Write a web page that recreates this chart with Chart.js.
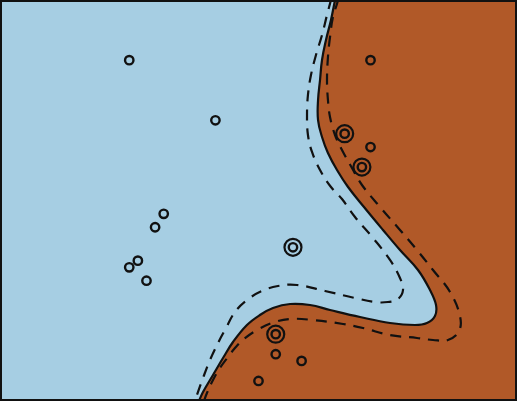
<!DOCTYPE html>
<html>
<head>
<meta charset="utf-8">
<script src="https://cdn.jsdelivr.net/npm/chart.js@4.4.1/dist/chart.umd.min.js"></script>
<style>
  html, body { margin: 0; padding: 0; background: #fff; }
  #svm-chart { display: block; }
</style>
</head>
<body>
<canvas id="svm-chart" width="517" height="401"></canvas>
<script>
// training points, class 0 (blue) and class 1 (brown)
const class0X = [0.4, -1.5, -1.4, -1.3, -1.1, -1.2, -0.5, -1.5];
const class0Y = [-0.7, -1.0, -0.9, -1.2, -0.2, -0.4, 1.2, 2.1];
const class1X = [1.0, 1.3, 1.2, 0.2, 0.5, 0.2, 0.0, 1.3];
const class1Y = [1.0, 0.8, 0.5, -2.0, -2.4, -2.3, -2.7, 2.1];

// support vectors
const supportX = [0.4, 1.0, 1.2, 0.2];
const supportY = [-0.7, 1.0, 0.5, -2.0];

// decision boundary (level 0)
const boundaryX = [0.935, 0.888, 0.841, 0.783, 0.737, 0.714, 0.691, 0.691, 0.737, 0.806, 0.911, 1.039, 1.224, 1.445, 1.642, 1.851, 1.990, 2.060, 2.048, 1.955, 1.816, 1.526, 1.178, 0.830, 0.598, 0.366, 0.168, 0.017, -0.134, -0.296, -0.412, -0.528, -0.644, -0.691, -0.79];
const boundaryY = [3.3, 3.0, 2.701, 2.401, 2.102, 1.803, 1.504, 1.204, 0.950, 0.711, 0.456, 0.202, -0.097, -0.441, -0.741, -1.040, -1.339, -1.564, -1.728, -1.833, -1.863, -1.833, -1.743, -1.638, -1.564, -1.549, -1.608, -1.713, -1.863, -2.117, -2.357, -2.611, -2.865, -3.0, -3.3];

// margin at level -1 (blue side)
const innerX = [0.90, 0.841, 0.795, 0.737, 0.667, 0.609, 0.574, 0.563, 0.574, 0.621, 0.714, 0.841, 0.969, 1.120, 1.329, 1.526, 1.642, 1.677, 1.619, 1.503, 1.352, 1.120, 0.772, 0.447, 0.226, 0.041, -0.134, -0.273, -0.377, -0.470, -0.563, -0.644, -0.714, -0.737, -0.81];
const innerY = [3.3, 3.0, 2.776, 2.476, 2.177, 1.878, 1.579, 1.279, 0.980, 0.726, 0.456, 0.202, 0.022, -0.247, -0.561, -0.890, -1.160, -1.339, -1.474, -1.519, -1.519, -1.459, -1.354, -1.264, -1.279, -1.354, -1.489, -1.668, -1.908, -2.132, -2.387, -2.656, -2.910, -3.0, -3.3];

// margin at level +1 (brown side)
const outerX = [0.96, 0.923, 0.864, 0.830, 0.806, 0.795, 0.806, 0.830, 0.888, 0.969, 1.085, 1.201, 1.410, 1.642, 1.839, 2.025, 2.223, 2.338, 2.327, 2.199, 2.025, 1.839, 1.526, 1.213, 0.981, 0.632, 0.366, 0.157, -0.017, -0.168, -0.273, -0.354, -0.447, -0.528, -0.598, -0.633, -0.72];
const outerY = [3.3, 3.0, 2.746, 2.446, 2.147, 1.803, 1.504, 1.249, 0.980, 0.756, 0.486, 0.232, -0.097, -0.441, -0.741, -1.040, -1.369, -1.728, -1.953, -2.087, -2.087, -2.057, -2.013, -1.908, -1.848, -1.788, -1.773, -1.833, -1.938, -2.072, -2.207, -2.342, -2.506, -2.686, -2.880, -3.0, -3.3];

const BLUE = '#a6cee3';
const BROWN = '#b15928';

function toPoints(xs, ys) {
    return xs.map((x, i) => ({x: x, y: ys[i]}));
}

// brown region = boundary closed round the right-hand side
const regionPoints = toPoints(boundaryX, boundaryY).concat([
    {x: 3.5, y: -3.3},
    {x: 3.5, y: 3.3}
]);

const frame = {
    id: 'frame',
    beforeDraw(chart) {
        const {ctx, chartArea: a} = chart;
        ctx.save();
        ctx.fillStyle = BLUE;
        ctx.fillRect(a.left, a.top, a.right - a.left, a.bottom - a.top);
        ctx.restore();
    },
    afterDraw(chart) {
        const {ctx, chartArea: a} = chart;
        ctx.save();
        ctx.strokeStyle = '#111';
        ctx.lineWidth = 2;
        ctx.strokeRect(a.left + 1, a.top + 1, a.right - a.left - 2, a.bottom - a.top - 2);
        ctx.restore();
    }
};

const ctx = document.querySelector('#svm-chart').getContext('2d');
const myChart = new Chart(ctx, {
    type: 'scatter',
    data: {
        datasets: [
            {
                label: 'support vectors',
                data: toPoints(supportX, supportY),
                pointRadius: 8.5,
                pointHoverRadius: 8.5,
                borderWidth: 2.2,
                borderColor: '#111',
                backgroundColor: 'rgba(0,0,0,0)',
                order: 0
            },
            {
                label: 'class 0',
                data: toPoints(class0X, class0Y),
                pointRadius: 4.2,
                pointHoverRadius: 4.2,
                borderWidth: 2.4,
                borderColor: '#111',
                backgroundColor: BLUE,
                order: 1
            },
            {
                label: 'class 1',
                data: toPoints(class1X, class1Y),
                pointRadius: 4.2,
                pointHoverRadius: 4.2,
                borderWidth: 2.4,
                borderColor: '#111',
                backgroundColor: BROWN,
                order: 2
            },
            {
                label: 'margin -1',
                data: toPoints(innerX, innerY),
                showLine: true,
                pointRadius: 0,
                borderColor: '#111',
                borderWidth: 2.2,
                borderDash: [11, 8],
                tension: 0.4,
                fill: false,
                order: 3
            },
            {
                label: 'margin +1',
                data: toPoints(outerX, outerY),
                showLine: true,
                pointRadius: 0,
                borderColor: '#111',
                borderWidth: 2.2,
                borderDash: [11, 8],
                tension: 0.4,
                fill: false,
                order: 4
            },
            {
                label: 'boundary',
                data: regionPoints,
                showLine: true,
                pointRadius: 0,
                borderColor: '#111',
                borderWidth: 2.2,
                tension: 0.4,
                fill: 'shape',
                backgroundColor: BROWN,
                order: 5
            }
        ]
    },
    options: {
        responsive: false,
        animation: false,
        devicePixelRatio: 1,
        layout: { padding: 0, autoPadding: false },
        plugins: {
            legend: { display: false },
            tooltip: { enabled: false }
        },
        scales: {
            x: { type: 'linear', min: -3, max: 3, display: false },
            y: { type: 'linear', min: -3, max: 3, display: false }
        }
    },
    plugins: [frame]
});
</script>
</body>
</html>
